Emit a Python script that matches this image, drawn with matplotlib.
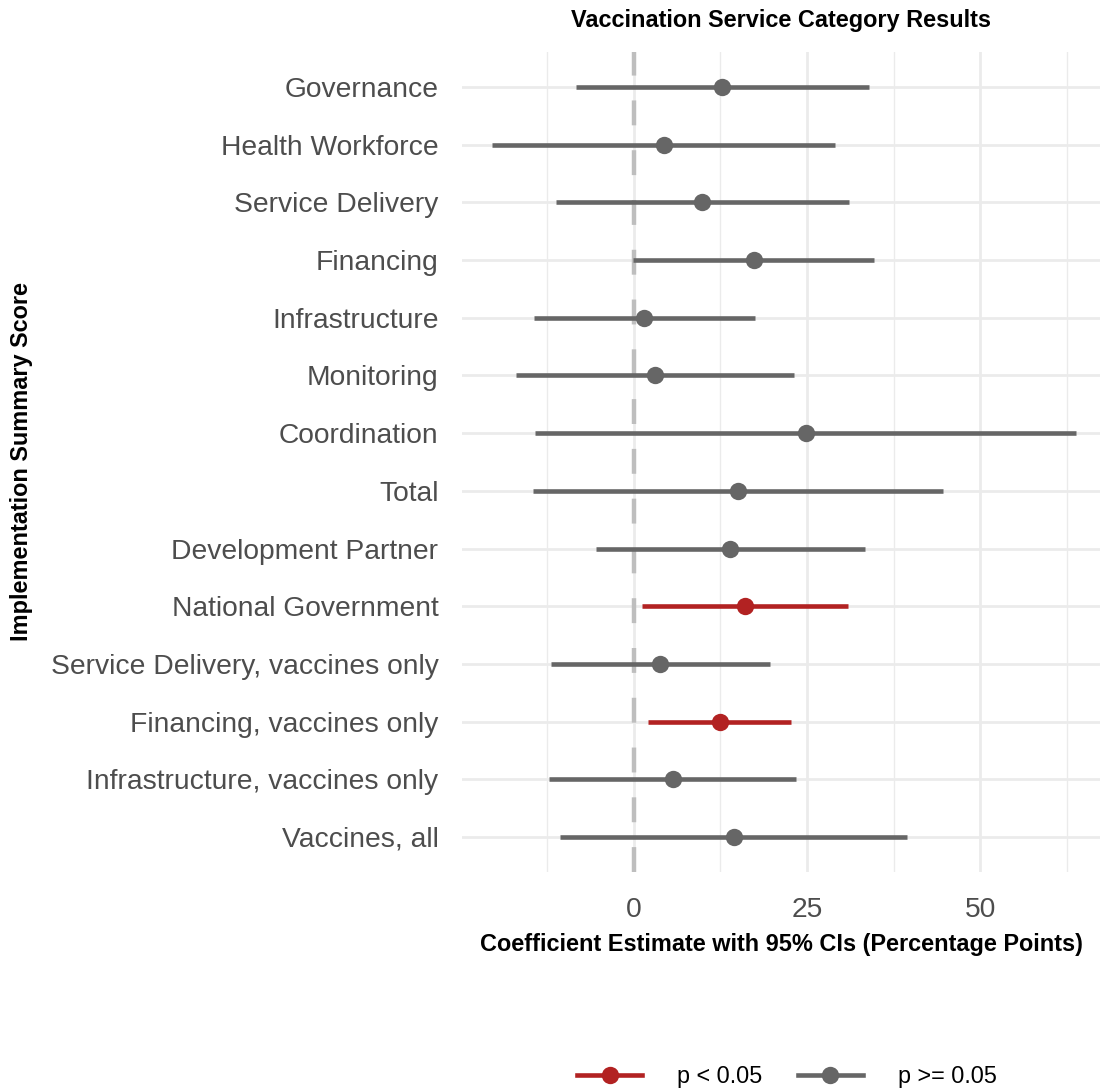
import matplotlib
matplotlib.use("Agg")
import matplotlib.pyplot as plt
from matplotlib.lines import Line2D

# ---------------- data ----------------
categories = [
    "Governance",
    "Health Workforce",
    "Service Delivery",
    "Financing",
    "Infrastructure",
    "Monitoring",
    "Coordination",
    "Total",
    "Development Partner",
    "National Government",
    "Service Delivery, vaccines only",
    "Financing, vaccines only",
    "Infrastructure, vaccines only",
    "Vaccines, all",
]
estimate = [12.8, 4.3, 9.9, 17.3, 1.45, 3.05, 24.8, 15.1, 13.9, 16.1, 3.8, 12.4, 5.6, 14.4]
ci_low = [-8.4, -20.4, -11.2, -0.1, -14.4, -17.0, -14.3, -14.6, -5.5, 1.2, -11.9, 2.05, -12.2, -10.7]
ci_high = [33.9, 29.1, 31.1, 34.65, 17.45, 23.1, 63.9, 44.6, 33.4, 30.95, 19.6, 22.7, 23.45, 39.5]
significant = [False, False, False, False, False, False, False, False, False, True, False, True, False, False]

x_ticks = [0, 25, 50]
x_minor = [-12.5, 12.5, 37.5, 62.5]
legend_labels = ["p < 0.05", "p >= 0.05"]

title = "Vaccination Service Category Results"
x_title = "Coefficient Estimate with 95% CIs (Percentage Points)"
y_title = "Implementation Summary Score"

# ---------------- style ----------------
RED = "#B22222"
GREY = "#666666"
GRID = "#EBEBEB"
TXT = "#4D4D4D"
FONT = "Liberation Sans"
plt.rcParams["font.family"] = [FONT, "DejaVu Sans"]

W, H = 1100, 1091
fig = plt.figure(figsize=(W / 100, H / 100), dpi=100)
left, right, top, bottom = 462, 1100, 52.4, 871.6
ax = fig.add_axes([left / W, 1 - bottom / H, (right - left) / W, (bottom - top) / H])

n = len(categories)
ypos = list(range(n))  # 0 at top after inversion
ax.set_ylim(n - 1 + 0.6, -0.6)
ax.set_xlim(-24.8, 67.3)

for s in ax.spines.values():
    s.set_visible(False)

ax.set_xticks(x_ticks)
ax.set_xticks(x_minor, minor=True)
ax.set_yticks(ypos)
ax.set_yticklabels(categories)
ax.tick_params(axis="y", length=0, pad=17, labelsize=20.3, labelcolor=TXT)
ax.tick_params(axis="x", which="both", length=0, pad=18, labelsize=20.3, labelcolor=TXT)
ax.set_xticklabels([str(t) for t in x_ticks])

ax.grid(True, which="major", axis="both", color=GRID, linewidth=1.95, zorder=0)
ax.grid(True, which="minor", axis="x", color=GRID, linewidth=1.0, zorder=0)
ax.set_axisbelow(True)

ax.axvline(0, color="#BEBEBE", linewidth=3.2, linestyle=(0, (5.6, 5.6)), zorder=1)

LW = 3.3
MS = 12.5
for i in range(n):
    c = RED if significant[i] else GREY
    ax.plot([ci_low[i], ci_high[i]], [ypos[i], ypos[i]], color=c, linewidth=LW,
            solid_capstyle="butt", zorder=2)
    ax.plot([estimate[i]], [ypos[i]], marker="o", markersize=MS, color=c,
            markeredgewidth=0, zorder=3)

# titles
cx = (left + right) / 2 / W
fig.text(cx, 1 - 20 / H, title, ha="center", va="center", fontsize=16.9,
         fontweight="bold", color="black")
fig.text(cx, 1 - 944 / H, x_title, ha="center", va="center", fontsize=16.9,
         fontweight="bold", color="black")
fig.text(22 / W, 1 - 461 / H, y_title, ha="center", va="center", rotation=90,
         fontsize=16.9, fontweight="bold", color="black")

# legend
handles = [
    Line2D([0], [0], color=RED, linewidth=LW, marker="o", markersize=MS, markeredgewidth=0),
    Line2D([0], [0], color=GREY, linewidth=LW, marker="o", markersize=MS, markeredgewidth=0),
]
fig.legend(handles, legend_labels, loc="center", bbox_to_anchor=(787 / W, 1 - 1077 / H),
           ncol=2, frameon=False, fontsize=16.8, handlelength=2.8, handletextpad=1.5,
           columnspacing=1.5, borderpad=0, borderaxespad=0)

fig.savefig("out.png", dpi=100, facecolor="white")
